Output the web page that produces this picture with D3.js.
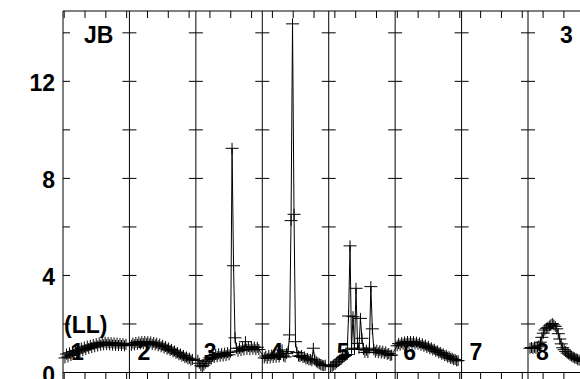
<!DOCTYPE html>
<html><head><meta charset="utf-8">
<script src="https://cdn.jsdelivr.net/npm/d3@7"></script>
<style>
body{margin:0;background:#fff}
svg{display:block}
text{font-family:"Liberation Sans",Arial,sans-serif;font-weight:bold;font-size:23px;fill:#000}
</style>
</head><body>
<svg id="c" width="580" height="379"></svg>
<script>
// ---- data ----
const panelLabels = ["1","2","3","4","5","6","7","8"];
const yTickValues = [0,2,4,6,8,10,12,14];
const yTickLabels = ["0","","4","","8","","12",""];
const panelLength = 67;      // time units per panel
const sampleStart = 2;       // first sample time within a panel
const sampleStep = 1.5;      // time between samples
const xTickStep = 21;
const xTickOffset = 1.2;

const panel1 = [0.6,0.76,0.64,0.81,0.7,0.86,0.75,0.91,0.8,0.96,0.85,1.01,0.9,1.05,0.95,1.09,0.99,1.12,1.03,1.16,1.06,1.19,1.09,1.22,1.12,1.24,1.14,1.25,1.15,1.24,1.14,1.23,1.13,1.22,1.12,1.21,1.11,1.2,1.11,1.19,1.1,1.16];
const panel2 = [1.12,1.21,1.14,1.24,1.16,1.26,1.18,1.27,1.19,1.28,1.19,1.27,1.18,1.26,1.16,1.24,1.14,1.21,1.1,1.17,1.06,1.12,1.01,1.07,0.96,1.01,0.91,0.95,0.85,0.89,0.79,0.82,0.73,0.76,0.67,0.7,0.61,0.64,0.56,0.59,0.51,0.54];
const panel3 = [0.5,0.38,0.28,0.24,0.3,0.38,0.46,0.52,0.6,0.56,0.7,0.62,0.74,0.65,0.77,0.67,0.78,0.68,0.8,0.7,0.82,0.73,0.84,9.24,4.4,1.43,1.0,0.88,1.0,0.9,1.04,0.93,1.27,0.95,1.07,0.94,1.06,0.96,1.05,0.94,1.04,0.95];
const panel4 = [0.6,0.68,0.58,0.7,0.6,0.72,0.62,0.73,0.63,0.74,0.64,0.76,0.93,0.68,0.64,0.78,0.86,1.55,6.26,14.37,6.52,1.27,0.82,0.68,0.66,0.7,0.62,0.64,0.56,0.58,0.52,0.54,0.48,1.0,0.52,0.44,0.4,0.36,0.32,0.3,0.28,0.3];
const panel5 = [0.24,0.26,0.3,0.34,0.4,0.46,0.52,0.56,0.62,0.66,0.7,0.74,2.33,5.22,1.0,2.3,0.95,3.47,1.2,1.0,2.23,1.41,0.95,0.83,0.92,0.82,1.0,3.54,1.8,0.94,0.84,0.92,0.82,0.9,0.8,0.88,0.78,0.85,0.75,0.78,0.7,0.72];
const panel6 = [1.1,1.19,1.13,1.23,1.17,1.26,1.19,1.28,1.2,1.28,1.2,1.27,1.18,1.25,1.16,1.22,1.12,1.18,1.08,1.13,1.03,1.08,0.98,1.02,0.93,0.96,0.87,0.9,0.81,0.83,0.75,0.77,0.69,0.71,0.63,0.65,0.58,0.59,0.53,0.54,0.48,0.49];
const panel7 = [];
const panel8 = [1.0,1.03,0.99,1.04,1.0,1.06,1.1,1.25,1.45,1.62,1.75,1.82,1.86,1.92,1.97,2.02,1.96,1.9,1.8,1.6,1.38,1.18,1.02,0.94,0.87,0.8,0.76,0.71,0.67,0.63,0.6,0.57,0.54,0.51,0.49,0.47,0.46,0.45,0.44,0.43,0.43,0.42];
const panels = [panel1,panel2,panel3,panel4,panel5,panel6,panel7,panel8];

// ---- scales ----
const W = 580, H = 379;
const nPanels = 9;
const x = d3.scaleLinear().domain([0, nPanels*panelLength]).range([63, 63 + nPanels*66.43]);
const y = d3.scaleLinear().domain([0, 14.9]).range([372.5, 11]);

const svg = d3.select("#c");

// frame: top border and bottom line
svg.append("line").attr("x1", x(0)).attr("x2", W).attr("y1", y(14.9)).attr("y2", y(14.9))
  .attr("stroke","#000").attr("stroke-width",1);
svg.append("line").attr("x1", x(0)).attr("x2", W).attr("y1", y(0)).attr("y2", y(0))
  .attr("stroke","#000").attr("stroke-width",1);

// x ticks (top inward, bottom outward)
const xTicks = d3.range(xTickOffset, nPanels*panelLength, xTickStep);
svg.append("g").selectAll("line").data(xTicks).join("line")
  .attr("x1", d=>x(d)).attr("x2", d=>x(d))
  .attr("y1", y(14.9)).attr("y2", y(14.9)+7)
  .attr("stroke","#000");
svg.append("g").selectAll("line").data(xTicks).join("line")
  .attr("x1", d=>x(d)).attr("x2", d=>x(d))
  .attr("y1", y(0)).attr("y2", y(0)+7)
  .attr("stroke","#000");

// panel dividers with y ticks
const dividers = d3.range(0, nPanels);
const gd = svg.append("g");
dividers.forEach(i=>{
  const xd = x(i*panelLength);
  gd.append("line").attr("x1",xd).attr("x2",xd).attr("y1",y(14.9)).attr("y2",H)
    .attr("stroke","#000");
  gd.selectAll(null).data(yTickValues).join("line")
    .attr("x1", i===0 ? xd : xd-7).attr("x2", xd+7)
    .attr("y1", d=>y(d)).attr("y2", d=>y(d))
    .attr("stroke","#000");
});

// y tick labels
svg.append("g").selectAll("text").data(yTickValues).join("text")
  .attr("x", 55).attr("y", d=>y(d)+10).attr("text-anchor","end")
  .text((d,i)=>yTickLabels[i]);

// panel labels
svg.append("g").selectAll("text").data(panelLabels).join("text")
  .attr("x",(d,i)=>x(i*panelLength)+8).attr("y",359.5)
  .text(d=>d);

// corner labels
svg.append("text").attr("x", 84).attr("y", 43).text("JB");
svg.append("text").attr("x", x(7*panelLength)+32).attr("y", 43).text("3");
svg.append("text").attr("x", 64).attr("y", 333).text("(LL)");

// data points
const segments = [];
let cur = [];
panels.forEach((vals,p)=>{
  if(vals.length===0){ if(cur.length) segments.push(cur); cur=[]; return; }
  vals.forEach((v,i)=>cur.push({t: p*panelLength + sampleStart + i*sampleStep, v}));
});
if(cur.length) segments.push(cur);

const line = d3.line().x(d=>x(d.t)).y(d=>y(d.v));
const gData = svg.append("g");
segments.forEach(seg=>{
  gData.append("path").attr("d", line(seg)).attr("fill","none").attr("stroke","#000").attr("stroke-width",1);
  gData.selectAll(null).data(seg).join("path")
    .attr("d","M-6.5,0H6.5M0,-5.5V5.5")
    .attr("transform", d=>`translate(${x(d.t)},${y(d.v)})`)
    .attr("fill","none").attr("stroke","#000").attr("stroke-width",1);
});
</script>
</body></html>
